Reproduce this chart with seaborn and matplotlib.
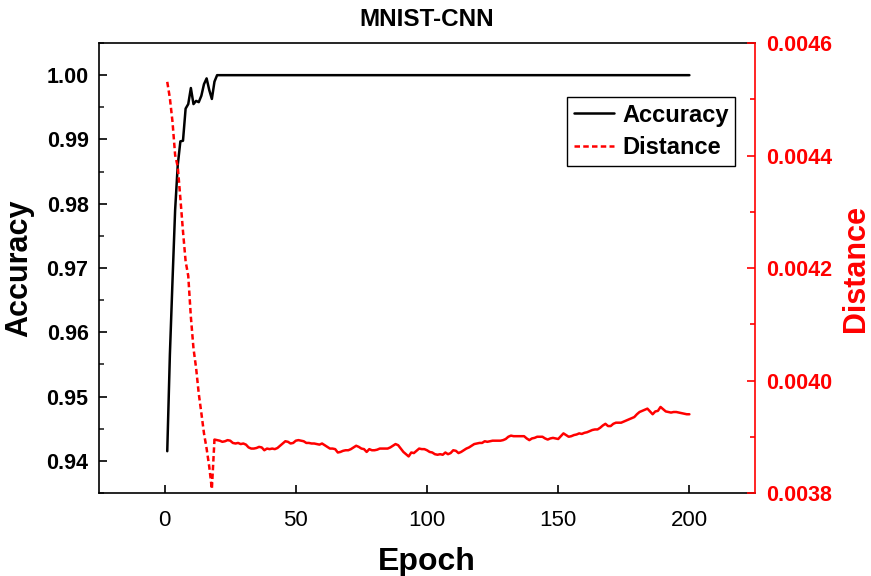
import numpy as np
import pandas as pd
import matplotlib.pyplot as plt
import seaborn as sns
from matplotlib.lines import Line2D
from matplotlib.ticker import MultipleLocator, FormatStrFormatter

# data
epochs = list(range(1, 201))

acc_first20 = [0.9415, 0.9565, 0.9680, 0.9790, 0.9860, 0.9897, 0.9898, 0.9948,
               0.9955, 0.9980, 0.9955, 0.9960, 0.9958, 0.9968, 0.9986, 0.9995,
               0.9977, 0.9963, 0.9990, 1.0000]
acc_rest = [1.0] * 180  # flat at 1.00 from epoch 21 on
accuracy = acc_first20 + acc_rest

distance = [
    # epochs 1-18
    0.004531, 0.004502, 0.004460, 0.004401, 0.004380, 0.004324, 0.004265, 0.004212,
    0.004186, 0.004113, 0.004057, 0.004022, 0.003977, 0.003942, 0.003906, 0.003879,
    0.003847, 0.003807,
    # epochs 19-63
    0.003895, 0.003894, 0.003893, 0.003891, 0.003892, 0.003894, 0.003893, 0.003889,
    0.003888, 0.003889, 0.003887, 0.003888, 0.003886, 0.003881, 0.003879, 0.003879,
    0.003880, 0.003882, 0.003881, 0.003876, 0.003879, 0.003878, 0.003879, 0.003878,
    0.003880, 0.003884, 0.003888, 0.003892, 0.003891, 0.003888, 0.003889, 0.003893,
    0.003894, 0.003893, 0.003892, 0.003889, 0.003889, 0.003888, 0.003888, 0.003887,
    0.003886, 0.003888, 0.003885, 0.003882, 0.003879,
    # epochs 64-109
    0.003879, 0.003878, 0.003872, 0.003873, 0.003875, 0.003876, 0.003876, 0.003878,
    0.003881, 0.003884, 0.003882, 0.003879, 0.003878, 0.003873, 0.003878, 0.003876,
    0.003876, 0.003877, 0.003879, 0.003879, 0.003879, 0.003879, 0.003881, 0.003884,
    0.003887, 0.003885, 0.003879, 0.003873, 0.003869, 0.003865, 0.003872, 0.003871,
    0.003875, 0.003879, 0.003878, 0.003878, 0.003876, 0.003873, 0.003872, 0.003869,
    0.003868, 0.003869, 0.003868, 0.003872, 0.003869, 0.003871,
    # epochs 110-120
    0.003876, 0.003875, 0.003871, 0.003873, 0.003876, 0.003879, 0.003881, 0.003884,
    0.003887, 0.003888, 0.003889,
    # epochs 121-154
    0.003889, 0.003892, 0.003891, 0.003892, 0.003893, 0.003893, 0.003893, 0.003893,
    0.003894, 0.003896, 0.003900, 0.003902, 0.003901, 0.003901, 0.003901, 0.003901,
    0.003901, 0.003897, 0.003894, 0.003897, 0.003898, 0.003900, 0.003900, 0.003900,
    0.003897, 0.003895, 0.003897, 0.003898, 0.003897, 0.003896, 0.003901, 0.003906,
    0.003903, 0.003900,
    # epochs 155-200
    0.003901, 0.003903, 0.003904, 0.003906, 0.003905, 0.003907, 0.003908, 0.003910,
    0.003912, 0.003913, 0.003913, 0.003916, 0.003920, 0.003923, 0.003919, 0.003919,
    0.003923, 0.003925, 0.003925, 0.003925, 0.003927, 0.003929, 0.003931, 0.003933,
    0.003935, 0.003940, 0.003944, 0.003946, 0.003948, 0.003950, 0.003945, 0.003940,
    0.003945, 0.003946, 0.003953, 0.003949, 0.003945, 0.003944, 0.003943, 0.003944,
    0.003944, 0.003943, 0.003942, 0.003941, 0.003940, 0.003940,
]

df = pd.DataFrame({'Epoch': epochs, 'Accuracy': accuracy, 'Distance': distance})
# the reference draws the steep start dashed, the dense part looks solid
head = df[df['Epoch'] <= 19]
tail = df[df['Epoch'] >= 19]

sns.set_style('ticks')
plt.rcParams['font.family'] = ['Liberation Sans', 'DejaVu Sans']
plt.rcParams['text.color'] = 'black'
plt.rcParams['axes.labelcolor'] = 'black'

fig = plt.figure(figsize=(8.71, 5.76), dpi=100)
ax = fig.add_axes([0.1137, 0.1441, 0.7531, 0.7812])
ax2 = ax.twinx()

sns.lineplot(data=df, x='Epoch', y='Accuracy', ax=ax, color='black', lw=1.8)
sns.lineplot(data=head, x='Epoch', y='Distance', ax=ax2, color='red', lw=1.8,
             linestyle=(0, (2.2, 1.3)))
sns.lineplot(data=tail, x='Epoch', y='Distance', ax=ax2, color='red', lw=1.8)

ax.set_xlim(-25, 225)
ax.set_ylim(0.935, 1.005)
ax2.set_ylim(0.0038, 0.0046)

ax.xaxis.set_major_locator(MultipleLocator(50))
ax.yaxis.set_major_locator(MultipleLocator(0.01))
ax.yaxis.set_minor_locator(MultipleLocator(0.005))
ax.yaxis.set_major_formatter(FormatStrFormatter('%.2f'))
ax2.yaxis.set_major_locator(MultipleLocator(0.0002))
ax2.yaxis.set_minor_locator(MultipleLocator(0.0001))
ax2.yaxis.set_major_formatter(FormatStrFormatter('%.4f'))

ax.tick_params(axis='x', which='major', direction='in', length=6, width=1.2,
               labelsize=16, colors='black', pad=12)
ax.tick_params(axis='y', which='major', direction='in', length=6, width=1.2,
               labelsize=15.5, colors='black', pad=7.5)
ax.tick_params(axis='y', which='minor', direction='in', length=3.5, width=1.2)
ax.tick_params(axis='y', which='both', right=False)
ax2.tick_params(axis='y', which='major', direction='in', length=6, width=1.2,
                labelsize=15.5, colors='red', pad=8)
ax2.tick_params(axis='y', which='minor', direction='in', length=3.5, width=1.2,
                colors='red')
for lab in ax.get_yticklabels() + ax2.get_yticklabels():
    lab.set_fontweight('bold')

for side in ['left', 'top', 'bottom']:
    ax.spines[side].set_linewidth(1.2)
    ax.spines[side].set_color('black')
ax.spines['right'].set_visible(False)
for side in ['left', 'top', 'bottom']:
    ax2.spines[side].set_visible(False)
ax2.spines['right'].set_color('red')
ax2.spines['right'].set_linewidth(1.2)

ax.set_xlabel('Epoch', fontsize=23, fontweight='bold', labelpad=12)
ax.set_ylabel('Accuracy', fontsize=22, fontweight='bold', labelpad=9)
ax2.set_ylabel('Distance', fontsize=22, fontweight='bold', color='red', labelpad=6)
ax.set_title('MNIST-CNN', fontsize=17.5, fontweight='bold', pad=12)

handles = [Line2D([], [], color='black', lw=1.8),
           Line2D([], [], color='red', lw=1.8, linestyle=(0, (2.2, 1.3)))]
leg = ax2.legend(handles, ['Accuracy', 'Distance'], loc='upper right',
                 bbox_to_anchor=(0.97, 0.88), borderaxespad=0, fancybox=False,
                 framealpha=1, edgecolor='black', handlelength=1.7,
                 handletextpad=0.35, borderpad=0.28, labelspacing=0.4,
                 prop={'weight': 'bold', 'size': 17})
leg.get_frame().set_linewidth(1.0)

fig.savefig('out.png', dpi=100)
